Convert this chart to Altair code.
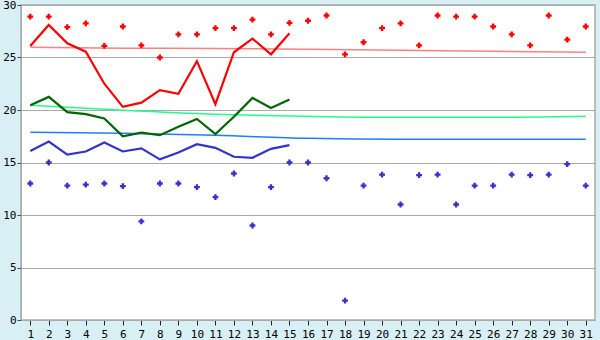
import altair as alt
import pandas as pd

days = list(range(1, 32))
line_days = list(range(1, 16))

max_points = [28.9, 28.9, 27.9, 28.25, 26.1, 27.95, 26.15, 25.0, 27.2, 27.2, 27.8, 27.8, 28.6, 27.2, 28.3,
              28.5, 29.0, 25.3, 26.45, 27.8, 28.25, 26.15, 29.0, 28.9, 28.9, 27.95, 27.2, 26.15, 29.0, 26.7, 27.95]
min_points = [13.0, 15.0, 12.8, 12.9, 13.0, 12.75, 9.4, 13.0, 13.0, 12.65, 11.7, 13.95, 9.0, 12.65, 15.0,
              15.0, 13.5, 1.85, 12.8, 13.85, 11.0, 13.8, 13.85, 11.0, 12.8, 12.8, 13.85, 13.8, 13.85, 14.85, 12.8]

red_line = [26.1, 28.1, 26.35, 25.55, 22.5, 20.3, 20.7, 21.9, 21.55, 24.65, 20.55, 25.5, 26.8, 25.3, 27.3]
green_line = [20.45, 21.25, 19.8, 19.6, 19.2, 17.5, 17.85, 17.6, 18.4, 19.15, 17.7, 19.35, 21.15, 20.2, 21.0]
blue_line = [16.1, 17.0, 15.75, 16.05, 16.9, 16.05, 16.35, 15.3, 15.95, 16.75, 16.4, 15.55, 15.45, 16.3, 16.65]

trend_days = [1, 6, 11, 16, 21, 26, 31]
red_trend = [25.97, 25.88, 25.86, 25.78, 25.68, 25.59, 25.5]
green_trend = [20.45, 19.97, 19.59, 19.4, 19.3, 19.3, 19.4]
blue_trend = [17.88, 17.78, 17.59, 17.3, 17.21, 17.21, 17.21]

x_ticks = list(range(1, 32))
y_ticks = [0, 5, 10, 15, 20, 25, 30]

trend_df = pd.concat([
    pd.DataFrame({"day": trend_days, "value": red_trend, "series": "red_trend"}),
    pd.DataFrame({"day": trend_days, "value": green_trend, "series": "green_trend"}),
    pd.DataFrame({"day": trend_days, "value": blue_trend, "series": "blue_trend"}),
])
line_df = pd.concat([
    pd.DataFrame({"day": line_days, "value": red_line, "series": "red"}),
    pd.DataFrame({"day": line_days, "value": green_line, "series": "green"}),
    pd.DataFrame({"day": line_days, "value": blue_line, "series": "blue"}),
])
point_df = pd.concat([
    pd.DataFrame({"day": days, "value": max_points, "series": "max"}),
    pd.DataFrame({"day": days, "value": min_points, "series": "min"}),
])

x_enc = alt.X("day:Q", scale=alt.Scale(domain=[0.5, 31.5], nice=False, zero=False),
              axis=alt.Axis(values=x_ticks, title=None, grid=False, tickColor="#222222",
                            tickSize=5, labelPadding=3, domainColor="#aaaaaa"))
y_enc = alt.Y("value:Q", scale=alt.Scale(domain=[0, 30], nice=False),
              axis=alt.Axis(values=y_ticks, title=None, grid=True, gridColor="#aaaaaa",
                            tickColor="#444444", tickSize=4, labelPadding=1, domainColor="#aaaaaa"))

trend = alt.Chart(trend_df).mark_line(strokeWidth=1.5, interpolate="monotone").encode(
    x=x_enc, y=y_enc,
    color=alt.Color("series:N", scale=alt.Scale(domain=["red_trend", "green_trend", "blue_trend"],
                                                range=["#ff8080", "#22ff88", "#1a80ff"]), legend=None),
    detail="series:N",
)
lines = alt.Chart(line_df).mark_line(strokeWidth=2.2).encode(
    x=x_enc, y=y_enc,
    color=alt.Color("series:N", scale=alt.Scale(domain=["red", "green", "blue"],
                                                range=["#ff0000", "#006600", "#3333cc"]), legend=None),
    detail="series:N",
)
points = alt.Chart(point_df).mark_point(shape="cross", filled=True, size=34, opacity=1).encode(
    x=x_enc, y=y_enc,
    color=alt.Color("series:N", scale=alt.Scale(domain=["max", "min"],
                                                range=["#ff0000", "#3333cc"]), legend=None),
)

chart = alt.layer(trend, lines, points).resolve_scale(color="independent").properties(
    width=574, height=315,
    padding={"left": 21, "top": 5, "right": 5, "bottom": 20},
    autosize="none",
).configure(background="#d9eff6").configure_view(
    fill="white", stroke="#aaaaaa", strokeWidth=1.5
).configure_axis(
    labelFont="DejaVu Sans Mono", labelFontSize=11, labelColor="#000000"
)

chart.save("out.html", embed_options={"renderer": "svg", "actions": False})
